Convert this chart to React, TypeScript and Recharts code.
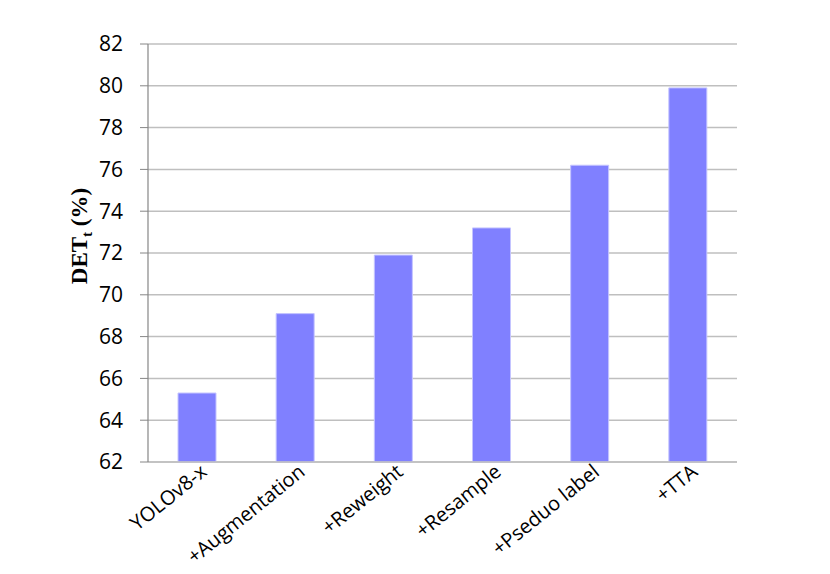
import React from 'react';
import { BarChart, Bar, XAxis, YAxis, CartesianGrid } from 'recharts';

const categories = ['YOLOv8-x', '+Augmentation', '+Reweight', '+Resample', '+Pseduo label', '+TTA'];
const detValues = [65.3, 69.1, 71.9, 73.2, 76.2, 79.9];
const yTicks = [62, 64, 66, 68, 70, 72, 74, 76, 78, 80, 82];

const data = categories.map((name, i) => ({ name, value: detValues[i] }));

const FONT = '"Open Sans", sans-serif';

const XTick = ({ x, payload }: any) => (
    <g transform={`translate(${x + 11},474)`}>
        <text
            textAnchor="end"
            transform="rotate(-39)"
            fontFamily={FONT}
            fontSize={20}
            fill="#000"
        >
            {payload.value}
        </text>
    </g>
);

const YLabel = () => (
    <text
        transform="translate(87,236) rotate(-90)"
        textAnchor="middle"
        fontFamily='"Liberation Serif", "Times New Roman", serif'
        fontWeight="bold"
        fontSize={23}
        fill="#000"
    >
        DET
        <tspan fontSize={15} dy={5}>t</tspan>
        <tspan dy={-5}> (%)</tspan>
    </text>
);

export default function App() {
    return (
        <div style={{ position: 'absolute', left: 0, top: 0, background: '#fff' }}>
            <BarChart
                width={830}
                height={574}
                data={data}
                margin={{ top: 44, right: 93, bottom: 12, left: 68 }}
                barCategoryGap={0}
            >
                <CartesianGrid vertical={false} stroke="#bfbfbf" strokeWidth={1.5} />
                <XAxis
                    dataKey="name"
                    height={100}
                    tickLine={false}
                    axisLine={{ stroke: '#bfbfbf', strokeWidth: 1.5 }}
                    interval={0}
                    tick={<XTick />}
                />
                <YAxis
                    width={80}
                    domain={[62, 82]}
                    ticks={yTicks}
                    interval={0}
                    tickSize={8}
                    tickLine={{ stroke: '#868686' }}
                    axisLine={{ stroke: '#868686', strokeWidth: 1.2 }}
                    tick={{ fontFamily: FONT, fontSize: 21, fill: '#000' }}
                    tickMargin={17}
                    label={<YLabel />}
                />
                <Bar
                    dataKey="value"
                    fill="#8080ff"
                    stroke="#c4c4ff"
                    strokeWidth={1}
                    barSize={38}
                    isAnimationActive={false}
                />
            </BarChart>
        </div>
    );
}
